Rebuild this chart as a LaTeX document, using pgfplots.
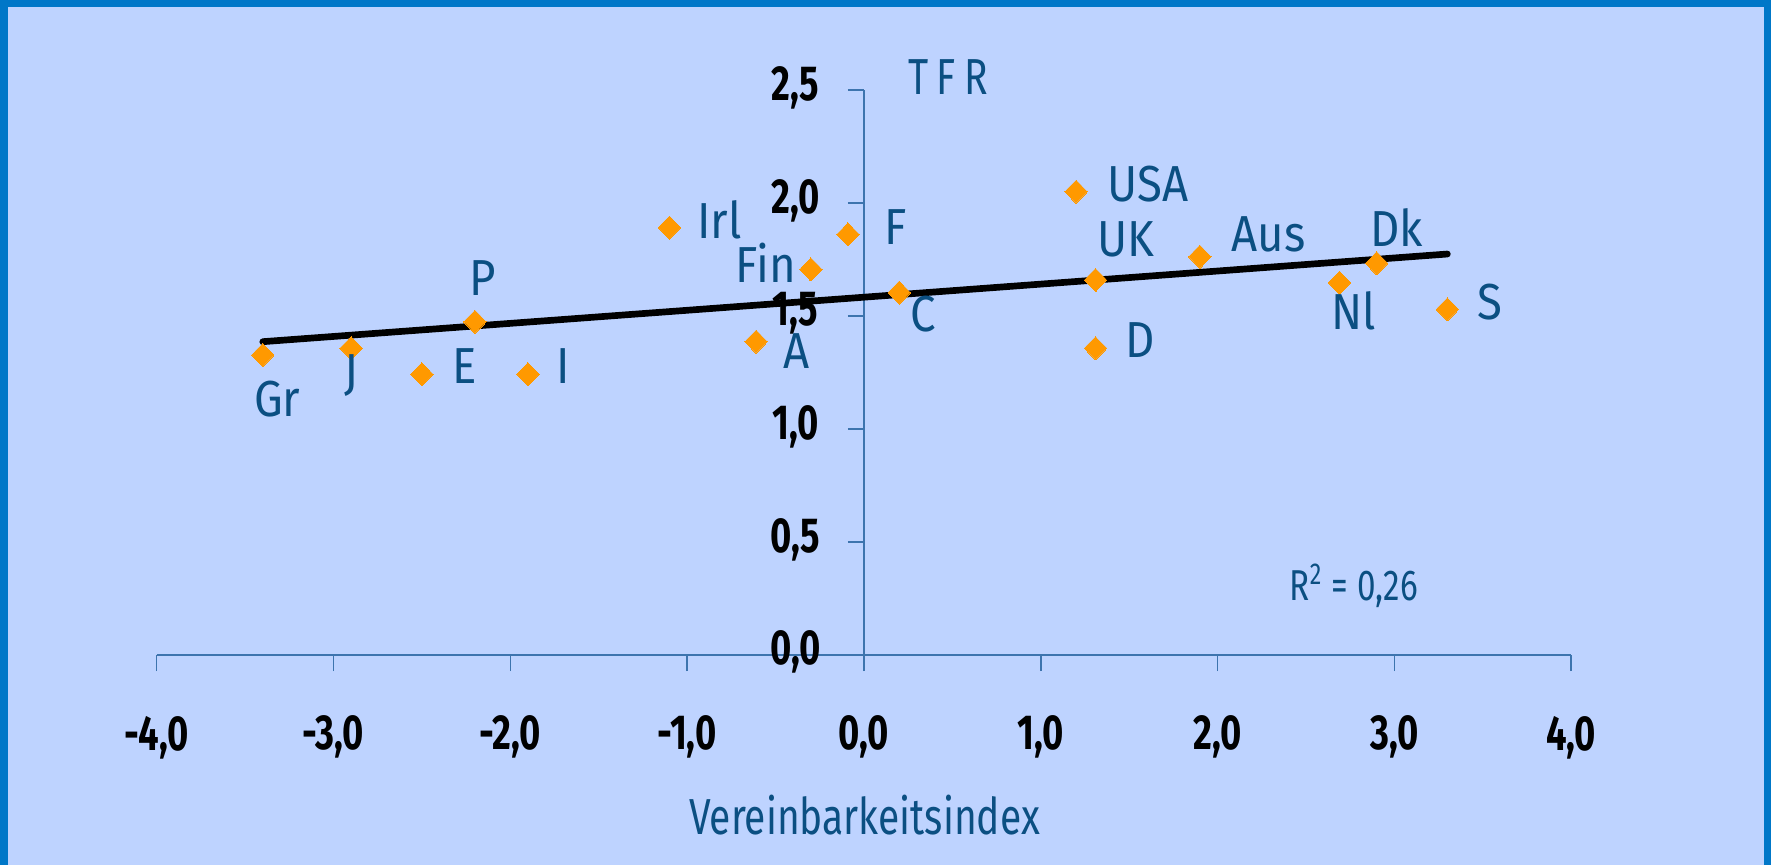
\documentclass[border=0pt]{standalone}
\usepackage{fontspec}
\setmainfont{Fira Sans}[FakeStretch=0.9]
\newfontfamily\tickfont{Fira Sans}[FakeStretch=0.74]
\newfontfamily\thinfont{Fira Sans}[FakeStretch=0.77]
\usepackage{pgfplots}
\pgfplotsset{compat=1.18}
\usepackage{pgfplotstable}
\definecolor{bg}{HTML}{BED3FF}
\definecolor{frame}{HTML}{0077C8}
\definecolor{axisc}{HTML}{3D74AE}
\definecolor{txt}{HTML}{0B4F82}
\definecolor{mk}{HTML}{FF9900}

\pgfplotstableread{
x y label dx dy
-3.40 1.328 Gr 1.45 -4.4
-2.90 1.358 J 0.0 -2.4
-2.50 1.243 E 4.3 0.8
-1.90 1.243 I 3.5 0.8
-2.20 1.475 P 0.8 4.4
-1.10 1.892 Irl 5.0 0.8
-0.61 1.387 A 4.0 -0.9
-0.30 1.707 Fin -4.5 0.7
-0.09 1.862 F 4.8 0.7
0.20 1.604 C 2.4 -2.1
1.20 2.051 USA 7.2 0.8
1.31 1.660 UK 3.0 4.1
1.31 1.358 D 4.5 0.8
1.90 1.763 Aus 6.9 2.3
2.90 1.734 Dk 2.0 3.6
2.69 1.648 Nl 1.4 -2.8
3.30 1.530 S 4.3 0.8
}\data

\pgfplotstableread{
x y
-3.40 1.387
3.30 1.775
}\trend

\begin{document}
\begin{tikzpicture}[x=1mm,y=1mm]
\fill[bg] (0,0) rectangle (177.1,86.5);
\fill[frame] (0,0) rectangle (0.75,86.5);
\fill[frame] (0,85.83) rectangle (177.1,86.5);
\fill[frame] (176.35,0) rectangle (177.1,86.5);
\begin{axis}[
  at={(15.67mm,21.0mm)}, anchor=south west,
  scale only axis, width=141.44mm, height=56.475mm,
  xmin=-4, xmax=4, ymin=0, ymax=2.5,
  axis lines=middle,
  axis line style={axisc, line width=0.45pt, -},
  tick style={axisc, line width=0.45pt},
  major tick length=1.6mm,
  tick align=outside,
  xtick={-4,-3,-2,-1,0,1,2,3,4},
  xticklabels={{-4,0},{-3,0},{-2,0},{-1,0},{0,0},{1,0},{2,0},{3,0},{4,0}},
  ytick={0,0.5,1,1.5,2,2.5},
  yticklabels={{0,0},{0,5},{1,0},{1,5},{2,0},{2,5}},
  ticklabel style={font=\tickfont\bfseries\fontsize{14}{15}\selectfont, text=black, text depth=0pt, inner sep=0pt},
  xticklabel style={anchor=center, yshift=-6.2mm},
  yticklabel style={anchor=center, xshift=-5.25mm, yshift=0.7mm},
  hide obscured x ticks=false, hide obscured y ticks=false,
  clip=false,
]
\addplot[only marks, mark=diamond*, mark size=1.15mm,
  mark options={fill=mk, draw=mk, line width=0pt, xscale=1.3},
  nodes near coords, point meta=explicit symbolic,
  visualization depends on={\thisrow{dx} \as \dx},
  visualization depends on={\thisrow{dy} \as \dy},
  nodes near coords style={anchor=center, xshift=\dx mm, yshift=\dy mm,
    font=\fontsize{14.4}{16}\selectfont, text=txt, text depth=0pt, inner sep=0pt}]
  table[x=x, y=y, meta=label] {\data};
\addplot[black, line width=1.9pt, line cap=round] table[x=x, y=y] {\trend};
\end{axis}
\node[txt, font=\thinfont\fontsize{14.4}{16}\selectfont, text depth=0pt, inner sep=0pt] at (94.8,78.8) {T\,F\,R};
\node[txt, font=\thinfont\fontsize{14.4}{16}\selectfont, text depth=0pt, inner sep=0pt] at (86.45,5.0) {Vereinbarkeitsindex};
\node[txt, font=\thinfont\fontsize{12.3}{14}\selectfont, anchor=base west, inner sep=0pt] at (128.9,26.5) {R\textsuperscript{2} = 0,26};
\pgfresetboundingbox
\path[use as bounding box] (0,0) rectangle (177.1,86.5);
\end{tikzpicture}
\end{document}
